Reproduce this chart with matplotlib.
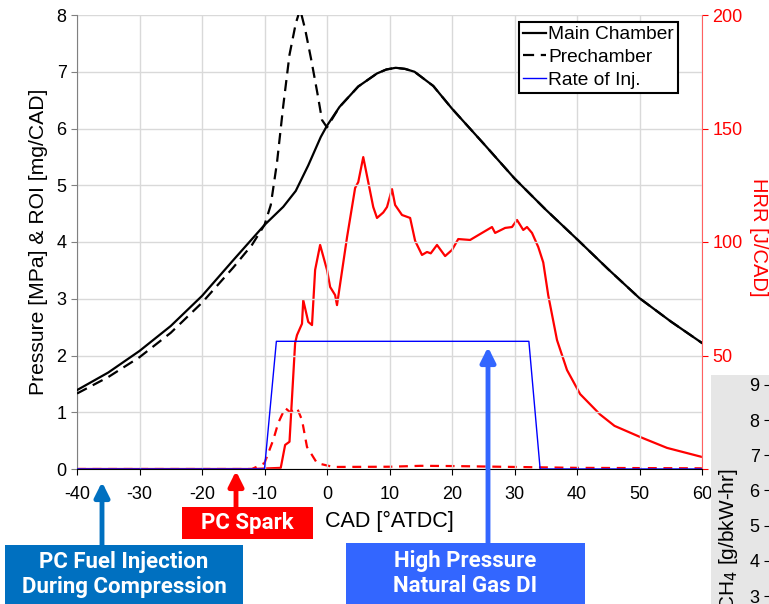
import numpy as np
import matplotlib.pyplot as plt
from matplotlib.patches import Rectangle, FancyArrowPatch

plt.rcParams['font.family'] = ['Liberation Sans', 'DejaVu Sans']
plt.rcParams['axes.unicode_minus'] = False

# main chamber pressure [MPa]
cad_main = [-40, -35, -30, -25, -20, -15, -10, -7, -5, -3, -1, 0, 2, 5, 8, 9.5, 11, 12.5, 14, 17, 20, 25, 30, 35, 40, 45, 50, 55, 60]
p_main = [1.39, 1.70, 2.08, 2.52, 3.05, 3.68, 4.30, 4.62, 4.90, 5.35, 5.85, 6.05, 6.38, 6.74, 6.97, 7.04, 7.07, 7.05, 7.00, 6.75, 6.35, 5.74, 5.12, 4.57, 4.05, 3.52, 3.01, 2.60, 2.22]

# prechamber pressure [MPa]
cad_pc = [-40, -35, -30, -25, -20, -15, -12, -10, -9, -8, -7, -6, -5, -4.3, -3.5, -2.5, -1.5, -0.8, 0, 2, 5, 8, 9.5, 11, 12.5, 14, 17, 20, 25, 30, 35, 40, 45, 50, 55, 60]
p_pc = [1.33, 1.62, 1.97, 2.40, 2.93, 3.55, 3.95, 4.30, 4.65, 5.40, 6.40, 7.30, 7.85, 8.10, 7.75, 7.20, 6.60, 6.15, 6.02, 6.38, 6.74, 6.97, 7.04, 7.07, 7.05, 7.00, 6.75, 6.35, 5.74, 5.12, 4.57, 4.05, 3.52, 3.01, 2.60, 2.22]

# rate of injection [mg/CAD]
cad_roi = [-40, -10, -8.1, 32.3, 34.1, 60]
roi = [0, 0, 2.25, 2.25, 0, 0]

# heat release rate, main chamber [J/CAD]
cad_hrr = [-40, -12, -7.4, -6.7, -6.0, -5.1, -4.8, -4.0, -3.8, -3.0, -2.4, -1.9, -1.1, 0, 0.5, 1.3, 1.6,
           3.2, 4.5, 5.0, 5.8, 6.6, 7.4, 8.0, 9.0, 9.6, 10.4, 10.9, 12.0, 13.3, 14.1, 15.2, 16.0, 16.6,
           17.6, 18.9, 20.0, 21.0, 22.9, 24.8, 26.4, 26.9, 28.5, 29.6, 30.4, 31.4, 32.0, 32.8, 33.8,
           34.6, 35.4, 36.8, 38.4, 40.5, 43.7, 46.0, 50.1, 54.4, 60]
hrr = [0, 0, 0.5, 10.6, 12, 55.5, 59, 64, 74.4, 64.8, 63.4, 87.7, 98.7, 87.7, 80.2, 76.6, 72.2,
       102, 123.8, 126.4, 137.4, 126.4, 115.4, 110.6, 113, 115.4, 123.3, 116.3, 111.9, 110.6, 100.5, 94.3, 95.6, 95,
       98.7, 93.8, 96.5, 101.3, 100.9, 104, 106.6, 104, 106.2, 106.6, 109.7, 105.3, 106.6, 104, 97.8,
       91, 76.5, 56.8, 43.6, 33, 24, 19, 14.1, 9.3, 5.3]

# heat release rate, prechamber [J/CAD]
cad_hrr_pc = [-40, -12, -10, -8.6, -7.8, -6.7, -5.9, -4.8, -4.0, -3.2, -1.6, 1, 10, 15, 20, 30, 40, 60]
hrr_pc = [0, 0, 2.6, 12.8, 20.3, 26.9, 25, 26.9, 21.6, 9.7, 2.6, 0.9, 1.0, 1.4, 1.3, 0.9, 0.5, 0.3]

hrr_ticks = [0, 50, 100, 150, 200]
hrr_labels = ['', '50', '100', '150', '200']

fig = plt.figure(figsize=(7.69, 6.04), dpi=100)
W, H = 769.0, 604.0

ax = fig.add_axes([77 / W, 1 - 469 / H, 625 / W, 454 / H])
ax.plot(cad_main, p_main, color='black', lw=1.6, label='Main Chamber', zorder=4)
ax.plot(cad_pc, p_pc, color='black', lw=1.6, dashes=(5, 3), label='Prechamber', zorder=4)
ax.plot(cad_roi, roi, color='blue', lw=1.0, label='Rate of Inj.', zorder=5)
ax.set_xlim(-40, 60)
ax.set_ylim(0, 8)
ax.set_xticks(np.arange(-40, 61, 10))
ax.set_yticks(np.arange(0, 9, 1))
ax.grid(True, color='#d9d9d9', lw=1)
ax.set_axisbelow(True)
ax.tick_params(labelsize=13, length=4, color='#808080')
ax.tick_params(axis='x', pad=8, color='black')
ax.spines['left'].set_color('#808080')
ax.spines['bottom'].set_color('black')
ax.spines['top'].set_visible(False)
ax.spines['right'].set_visible(False)
ax.set_xlabel('CAD [°ATDC]', fontsize=15.5, labelpad=6)
ax.set_ylabel('Pressure [MPa] & ROI [mg/CAD]', fontsize=15.2, labelpad=6)

leg = ax.legend(loc='upper right', bbox_to_anchor=((678 - 77) / 625, (469 - 22) / 454),
                fontsize=13.8, handlelength=1.25, handletextpad=0.1, borderpad=0.2,
                labelspacing=0.28, borderaxespad=0, fancybox=False, framealpha=1)
leg.get_frame().set_edgecolor('black')
leg.get_frame().set_linewidth(1.5)

ax2 = ax.twinx()
ax2.plot(cad_hrr, hrr, color='red', lw=1.6, zorder=3)
ax2.plot(cad_hrr_pc, hrr_pc, color='red', lw=1.6, dashes=(4, 3), zorder=3)
ax2.set_ylim(0, 200)
ax2.set_yticks(hrr_ticks)
ax2.set_yticklabels(hrr_labels)
ax2.tick_params(labelsize=13, colors='red', length=4)
ax2.spines['right'].set_color('#ff6060')
for s in ['top', 'left', 'bottom']:
    ax2.spines[s].set_visible(False)
ax2.set_ylabel('HRR [J/CAD]', fontsize=14.5, color='red', rotation=-90, va='center')
ax2.yaxis.set_label_coords((759 - 77) / 625, 0.51)
ax.set_zorder(ax2.get_zorder() + 1)
ax.patch.set_visible(False)

# grey panel of neighbouring chart
fig.patches.append(Rectangle((711 / W, 0), 60 / W, 1 - 375 / H, transform=fig.transFigure,
                             facecolor='#e6e6e6', edgecolor='none', zorder=5))
ax3 = fig.add_axes([770 / W, 0, 0.1, 1 - 375 / H], zorder=6)
ax3.patch.set_visible(False)
ax3.set_ylim(3 - 8 / 35.2, 9 + 10 / 35.2)
ax3.set_yticks(np.arange(3, 10, 1))
ax3.tick_params(labelsize=13, length=4)
ax3.set_xticks([])
for s in ax3.spines.values():
    s.set_visible(False)
fig.text(729 / W, 1 - 468 / H, 'CH$_4$ [g/bkW-hr]', rotation=90, fontsize=15,
         ha='center', va='top', zorder=7)

# annotation boxes with arrows
boxes = [
    ('PC Fuel Injection\nDuring Compression', '#0070c0', (5, 545, 243, 604), (102, 482)),
    ('PC Spark', '#ff0000', (182, 507, 313, 539), (236, 471)),
    ('High Pressure\nNatural Gas DI', '#3366ff', (346, 543, 585, 604), (488, 347)),
]
for txt, col, (x0, y0, x1, y1), (ax_, ay_) in boxes:
    fig.patches.append(Rectangle((x0 / W, 1 - y1 / H), (x1 - x0) / W, (y1 - y0) / H,
                                 transform=fig.transFigure, facecolor=col, edgecolor='none', zorder=8))
    fig.text((x0 + x1) / 2 / W, 1 - (y0 + y1) / 2 / H, txt, color='white', fontsize=16,
             fontweight='bold', family='Roboto', ha='center', va='center', linespacing=1.15, zorder=9)
    fig.patches.append(FancyArrowPatch(
        (ax_ / W, 1 - y0 / H), (ax_ / W, 1 - ay_ / H), transform=fig.transFigure,
        arrowstyle='-|>', mutation_scale=22, lw=3.5, color=col, zorder=8, shrinkA=0, shrinkB=0))

fig.savefig('out.png', dpi=100)
